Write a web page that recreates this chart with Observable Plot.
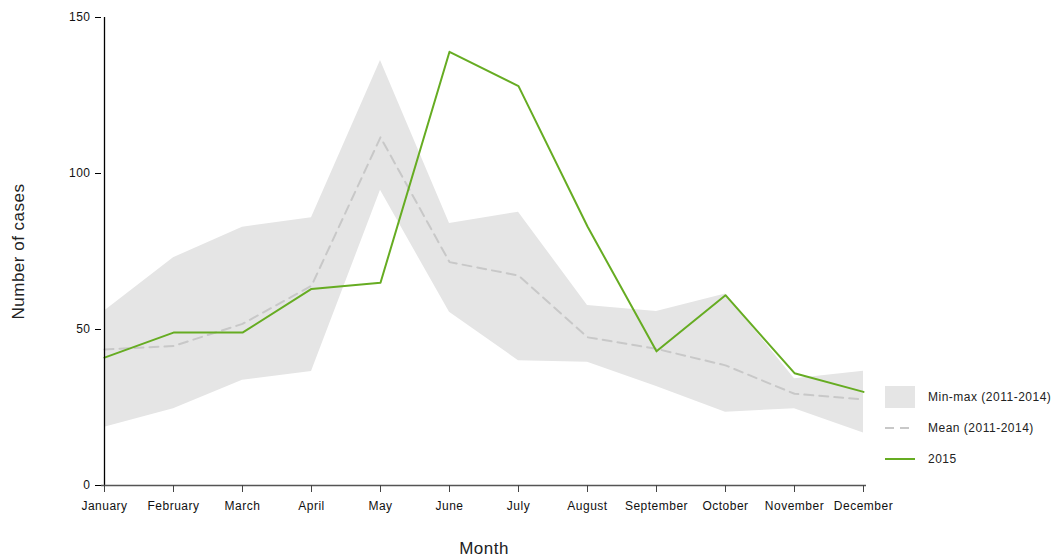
<!DOCTYPE html>
<html>
<head>
<meta charset="utf-8">
<script src="https://cdn.jsdelivr.net/npm/d3@7"></script>
<script src="https://cdn.jsdelivr.net/npm/@observablehq/plot@0.6"></script>
<style>
  html, body { margin: 0; padding: 0; background: #fff; }
  #wrap { position: relative; width: 1052px; height: 556px; font-family: "Liberation Sans", Arial, sans-serif; }
  #wrap svg text { letter-spacing: 0.5px; }
  #legend { position: absolute; left: 885px; top: 381px; font-size: 12px; letter-spacing: 0.5px; color: #222; }
  .item { display: flex; align-items: center; height: 31px; }
  .sw { width: 30px; margin-right: 13px; }
</style>
</head>
<body>
<div id="wrap"></div>
<script>
const months = ["January","February","March","April","May","June","July","August","September","October","November","December"];
const minVals  = [18.7, 24.6, 33.7, 36.5, 94.6, 55.5, 40.0, 39.5, 31.7, 23.5, 24.6, 16.8];
const maxVals  = [55.9, 73.0, 82.8, 85.8, 136.2, 84.0, 87.6, 57.7, 55.8, 61.4, 34.2, 36.6];
const meanVals = [43.6, 44.7, 51.8, 64.0, 111.6, 71.6, 67.3, 47.5, 43.8, 38.5, 29.4, 27.6];
const cases2015 = [41, 49, 49, 63, 65, 139, 128, 83, 43, 61, 36, 30];
const yTicks = [0, 50, 100, 150];

const rows = months.map((m, i) => ({month: m, min: minVals[i], max: maxVals[i], mean: meanVals[i], y2015: cases2015[i]}));

const bandColor = "#e5e5e5", meanColor = "#c8c8c8", greenColor = "#66ac22";

const chart = Plot.plot({
  width: 1052,
  height: 556,
  marginLeft: 101,
  marginRight: 186,
  marginTop: 17,
  marginBottom: 71,
  style: {fontFamily: "Liberation Sans, Arial, sans-serif", background: "white"},
  x: {type: "point", domain: months, padding: 0},
  y: {domain: [0, 150]},
  marks: [
    Plot.areaY(rows, {x: "month", y1: "min", y2: "max", fill: bandColor, curve: "linear"}),
    Plot.lineY(rows, {x: "month", y: "mean", stroke: meanColor, strokeWidth: 2, strokeDasharray: "9,6"}),
    Plot.lineY(rows, {x: "month", y: "y2015", stroke: greenColor, strokeWidth: 2}),
    Plot.ruleX([months[0]], {stroke: "#000", strokeWidth: 1.3}),
    Plot.ruleY([0], {stroke: "#555", strokeWidth: 1.5}),
    Plot.axisY({ticks: yTicks, tickSize: 6, tickPadding: 5, fontSize: 12, stroke: "#000", fill: "#111", label: null, tickFormat: d => d}),
    Plot.axisX({tickSize: 7, tickPadding: 9, fontSize: 12, stroke: "#444", fill: "#111", label: null}),
    Plot.text(["Number of cases"], {frameAnchor: "left", textAnchor: "middle", rotate: -90, dx: -83, fontSize: 17, fill: "#222"}),
    Plot.text(["Month"], {frameAnchor: "bottom", dy: 68, fontSize: 17, fill: "#222"})
  ]
});
const wrap = document.getElementById("wrap");
wrap.appendChild(chart);

const legend = document.createElement("div");
legend.id = "legend";
legend.innerHTML = `
  <div class="item"><svg class="sw" width="30" height="22"><rect width="30" height="22" fill="${bandColor}"/></svg><span>Min-max (2011-2014)</span></div>
  <div class="item"><svg class="sw" width="30" height="4"><line x1="0" x2="30" y1="2" y2="2" stroke="${meanColor}" stroke-width="2" stroke-dasharray="9,6"/></svg><span>Mean (2011-2014)</span></div>
  <div class="item"><svg class="sw" width="30" height="4"><line x1="0" x2="30" y1="2" y2="2" stroke="${greenColor}" stroke-width="2"/></svg><span>2015</span></div>`;
wrap.appendChild(legend);
</script>
</body>
</html>
